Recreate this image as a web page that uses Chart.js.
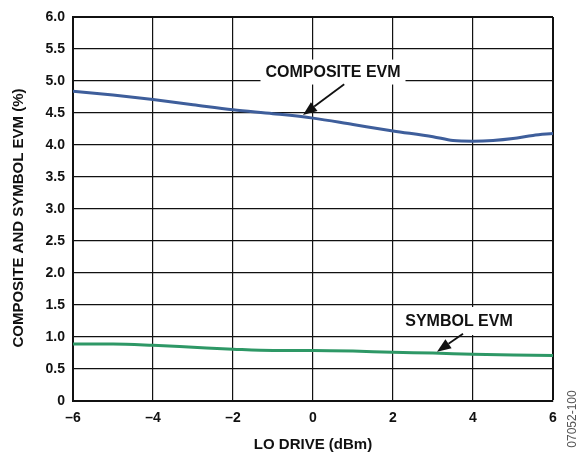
<!DOCTYPE html>
<html>
<head>
<meta charset="utf-8">
<script src="https://cdn.jsdelivr.net/npm/chart.js@4"></script>
<style>
  body { margin: 0; background: #fff; }
  #wrap { width: 582px; height: 452px; }
</style>
</head>
<body>
<div id="wrap"><canvas id="myChart" width="582" height="452"></canvas></div>
<script>
// LO drive (dBm) sample points
var compositeX = [-6, -5, -4, -3, -2, -1, 0, 1, 2, 3, 3.5, 4, 4.5, 5, 5.5, 6]
var compositeEvm = [4.84, 4.78, 4.71, 4.63, 4.55, 4.49, 4.42, 4.32, 4.22, 4.13, 4.07, 4.06, 4.07, 4.10, 4.15, 4.18]

var symbolX = [-6, -5, -4, -3, -2, -1, 0, 1, 2, 3, 4, 5, 6]
var symbolEvm = [0.89, 0.89, 0.87, 0.84, 0.81, 0.79, 0.79, 0.78, 0.76, 0.75, 0.73, 0.72, 0.71]

var xTicks = [-6, -4, -2, 0, 2, 4, 6]
var yTicks = [0, 0.5, 1, 1.5, 2, 2.5, 3, 3.5, 4, 4.5, 5, 5.5, 6]

var xTitle = 'LO DRIVE (dBm)'
var yTitle = 'COMPOSITE AND SYMBOL EVM (%)'
var figId = '07052-100'

var FONT = '"Liberation Sans", Arial, sans-serif'

function toPoints(xs, ys){
  return xs.map((x, i) => ({x: x, y: ys[i]}))
}

function gridWidth(c){
  // outer frame lines are heavier
  return (c.tick && (c.tick.value === 6)) ? 2 : 1.2
}

// annotations: label box, text, arrow (positions in data units)
var notes = [
  {text: 'COMPOSITE EVM', cx: 0.5, cy: 5.14, w: 145, h: 25, from: [0.78, 4.95], to: [-0.25, 4.47]},
  {text: 'SYMBOL EVM', cx: 3.65, cy: 1.25, w: 112, h: 28, from: [3.75, 1.05], to: [3.1, 0.77]}
]

var overlay = {
  id: 'overlay',
  afterDraw(chart){
    let ctx = chart.ctx
    let xs = chart.scales.x, ys = chart.scales.y
    ctx.save()
    notes.forEach(n => {
      let px = xs.getPixelForValue(n.cx), py = ys.getPixelForValue(n.cy)
      ctx.fillStyle = '#fff'
      ctx.fillRect(px - n.w / 2, py - n.h / 2, n.w, n.h)
      ctx.fillStyle = '#111'
      ctx.font = 'bold 16px ' + FONT
      ctx.textAlign = 'center'
      ctx.textBaseline = 'middle'
      ctx.fillText(n.text, px, py + 1)

      let x1 = xs.getPixelForValue(n.from[0]), y1 = ys.getPixelForValue(n.from[1])
      let x2 = xs.getPixelForValue(n.to[0]), y2 = ys.getPixelForValue(n.to[1])
      let ang = Math.atan2(y2 - y1, x2 - x1)
      let hl = 14, hw = 5.5
      let bx = x2 - hl * Math.cos(ang), by = y2 - hl * Math.sin(ang)
      ctx.strokeStyle = '#111'
      ctx.lineWidth = 1.8
      ctx.beginPath()
      ctx.moveTo(x1, y1)
      ctx.lineTo(bx, by)
      ctx.stroke()
      ctx.beginPath()
      ctx.moveTo(x2, y2)
      ctx.lineTo(bx + hw * Math.sin(ang), by - hw * Math.cos(ang))
      ctx.lineTo(bx - hw * Math.sin(ang), by + hw * Math.cos(ang))
      ctx.closePath()
      ctx.fill()
    })

    // y axis title
    ctx.fillStyle = '#111'
    ctx.font = 'bold 15px ' + FONT
    ctx.textAlign = 'center'
    ctx.textBaseline = 'middle'
    ctx.translate(19, 218)
    ctx.rotate(-Math.PI / 2)
    ctx.fillText(yTitle, 0, 0)
    ctx.restore()

    // figure id on the right edge
    ctx.save()
    ctx.fillStyle = '#555'
    ctx.font = '12px ' + FONT
    ctx.textAlign = 'center'
    ctx.textBaseline = 'middle'
    ctx.translate(573, 419)
    ctx.rotate(-Math.PI / 2)
    ctx.fillText(figId, 0, 0)
    ctx.restore()
  }
}

var ctx = document.getElementById('myChart').getContext('2d')
var chart = new Chart(ctx, {
  type: 'line',
  data: {
    datasets: [{
      label: 'COMPOSITE EVM',
      data: toPoints(compositeX, compositeEvm),
      borderColor: 'rgb(62, 94, 155)',
      borderWidth: 3,
      pointRadius: 0,
      cubicInterpolationMode: 'monotone'
    }, {
      label: 'SYMBOL EVM',
      data: toPoints(symbolX, symbolEvm),
      borderColor: 'rgb(46, 152, 102)',
      borderWidth: 3,
      pointRadius: 0,
      cubicInterpolationMode: 'monotone'
    }]
  },
  options: {
    responsive: false,
    animation: false,
    layout: {padding: {left: 0, right: 29, top: 17, bottom: 0}},
    plugins: {legend: {display: false}, tooltip: {enabled: false}},
    scales: {
      x: {
        type: 'linear',
        min: -6,
        max: 6,
        afterFit: s => { s.height = 51 },
        afterBuildTicks: s => { s.ticks = xTicks.map(v => ({value: v})) },
        ticks: {
          color: '#111',
          padding: 9,
          font: {family: FONT, size: 14, weight: 'bold'},
          callback: v => v < 0 ? '\u2013' + Math.abs(v) : String(v)
        },
        grid: {color: '#111', lineWidth: gridWidth, drawTicks: false},
        border: {color: '#111', width: 2},
        title: {
          display: true,
          text: xTitle,
          color: '#111',
          padding: {top: 0, bottom: 0},
          font: {family: FONT, size: 15, weight: 'bold', lineHeight: 1}
        }
      },
      y: {
        min: 0,
        max: 6,
        afterFit: s => { s.width = 73 },
        afterBuildTicks: s => { s.ticks = yTicks.map(v => ({value: v})) },
        ticks: {
          color: '#111',
          padding: 8,
          font: {family: FONT, size: 14, weight: 'bold'},
          callback: v => v === 0 ? '0' : v.toFixed(1)
        },
        grid: {color: '#111', lineWidth: gridWidth, drawTicks: false},
        border: {color: '#111', width: 2}
      }
    }
  },
  plugins: [overlay]
})
</script>
</body>
</html>
